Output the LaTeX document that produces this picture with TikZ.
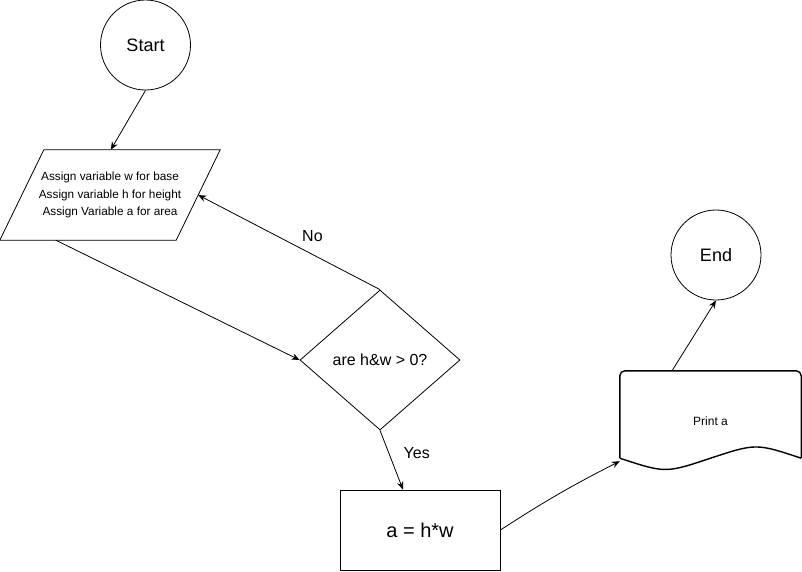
\documentclass[tikz,border=0pt]{standalone}
\usepackage{fontspec}
\setmainfont{Liberation Sans}
\usetikzlibrary{shapes.geometric, arrows.meta, calc}

\begin{document}
\begin{tikzpicture}[x=1pt, y=-1pt,
        every node/.style={font=\fontsize{12}{14}\selectfont},
        terminal/.style={circle, draw, line width=0.8pt, minimum size=90pt,
                         inner sep=0pt, font=\fontsize{18}{22}\selectfont},
        inputbox/.style={rectangle, minimum width=220pt, minimum height=90pt, inner sep=0pt,
                         align=center, font=\fontsize{11.8}{17.5}\selectfont},
        slantline/.style={line width=0.8pt},
        decision/.style={diamond, draw, line width=0.8pt, minimum width=160pt,
                         minimum height=140pt, inner sep=0pt, font=\fontsize{16}{19}\selectfont},
        process/.style={rectangle, draw, line width=0.8pt, minimum width=160pt,
                        minimum height=80pt, font=\fontsize{20}{24}\selectfont},
        docbox/.style={rectangle, minimum width=181pt, minimum height=87pt, inner sep=0pt},
        docline/.style={line width=1.4pt},
        flow/.style={-{Stealth[length=8pt, width=6.5pt]}, line width=0.8pt},
        edgelabel/.style={font=\fontsize{16}{19}\selectfont, inner sep=0pt}]
    % Fixed page size
    \useasboundingbox (0,0) rectangle (802,571);

    % Terminals
    \node[terminal] (start) at (145.5,45) {Start};
    \node[terminal] (finish) at (716,255) {End};

    % Input parallelogram
    \node[inputbox] (assign) at (110,195) {Assign variable w for base\\Assign variable h for height\\Assign Variable a for area};
    \draw[slantline] (assign.south west) -- ($(assign.north west)+(44,0)$) -- (assign.north east)
                     -- ($(assign.south east)+(-44,0)$) -- cycle;
    \coordinate (assignright) at ($(assign.east)+(-22,0)$);

    % Decision and process steps
    \node[decision] (check) at (380,360) {are h\&w > 0?};
    \node[process] (calc) at (420,530) {a = h*w};

    % Output document with wavy bottom
    \node[docbox] (doc) at (710.5,414.5) {};
    \node (doctext) at ([yshift=-6.5pt]doc.center) {Print a};
    \draw[docline, rounded corners=5pt] (doc.south west) -- (doc.north west) -- (doc.north east) -- (doc.south east);
    \draw[docline] (doc.south east) .. controls ($(doc.south)+(45.5,-15)$) .. (doc.south)
                   .. controls ($(doc.south)+(-45,15)$) .. (doc.south west);

    % Connections
    \draw[flow] (start.south) -- ([xshift=111pt]assign.north west);
    \draw[flow] ([xshift=56pt]assign.south west) -- (check.west);
    \draw[flow] (check.north) -- node[edgelabel, pos=0.41, shift={(7pt,15pt)}] {No} (assignright);
    \draw[flow] (check.south) -- node[edgelabel, pos=0.38, shift={(28pt,0pt)}] {Yes} ([xshift=-17pt]calc.north);
    \draw[flow] (calc.east) to[bend left=3] ([yshift=-3pt]doc.south west);
    \draw[flow] ([xshift=-38.5pt]doc.north) -- (finish.south);
\end{tikzpicture}
\end{document}
